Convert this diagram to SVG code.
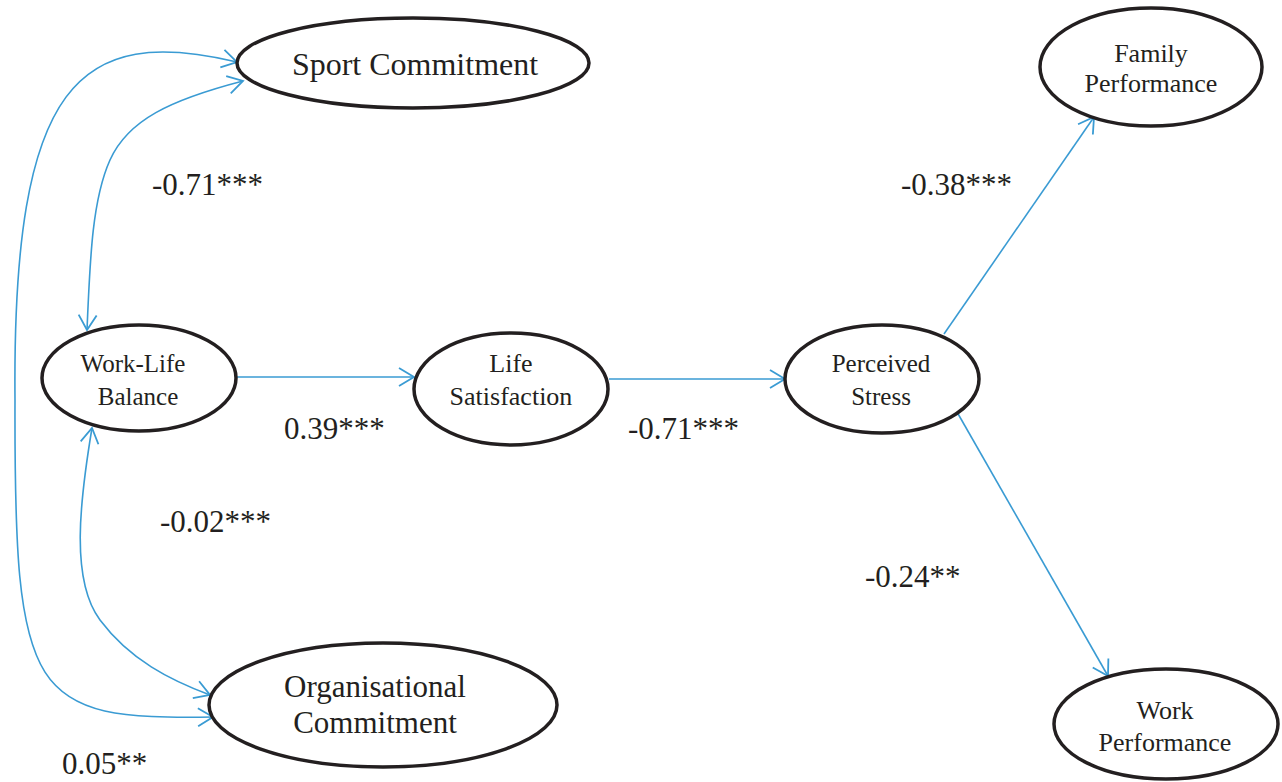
<svg xmlns="http://www.w3.org/2000/svg" width="1282" height="782" viewBox="0 0 1282 782">
<style>
.node{fill:#fff;stroke:#231f20;stroke-width:3.5}
.t{font-family:"Liberation Serif","Times New Roman",serif;fill:#231f20;text-anchor:middle}
.lbl{font-family:"Liberation Serif","Times New Roman",serif;fill:#231f20;font-size:31px}
.c{fill:none;stroke:#3a9bd3;stroke-width:1.6}
</style>
<defs>
<marker id="ah" markerUnits="userSpaceOnUse" markerWidth="20" markerHeight="22" refX="16" refY="10" orient="auto-start-reverse" viewBox="0 0 20 22">
<path d="M1,1 L16,10 L1,19" fill="none" stroke="#3a9bd3" stroke-width="1.8"/>
</marker>
</defs>
<g id="connectors">
<path class="c" d="M237,377 L414,377" marker-end="url(#ah)"/>
<path class="c" d="M609,379 L785,379" marker-end="url(#ah)"/>
<path class="c" d="M944,334 L1094,117" marker-end="url(#ah)"/>
<path class="c" d="M957,412 L1108,676" marker-end="url(#ah)"/>
<path class="c" d="M87,330 C90,260 92,200 110,160 C128,120 170,100 243,81" marker-start="url(#ah)" marker-end="url(#ah)"/>
<path class="c" d="M92,428 C80,500 70,580 100,620 C130,660 170,680 210,695" marker-start="url(#ah)" marker-end="url(#ah)"/>
<path class="c" d="M237,62 C80,25 12,80 15,400 C14,700 30,720 213,717" marker-start="url(#ah)" marker-end="url(#ah)"/>
</g>
<g id="sport">
<ellipse class="node" cx="413" cy="63" rx="176" ry="45"/>
<text class="t" x="415" y="75" font-size="32">Sport Commitment</text>
</g>
<g id="wlb">
<ellipse class="node" cx="139" cy="378" rx="97" ry="53"/>
<text class="t" x="133" y="372" font-size="25">Work-Life</text>
<text class="t" x="138" y="405" font-size="25">Balance</text>
</g>
<g id="ls">
<ellipse class="node" cx="511" cy="389" rx="97" ry="56"/>
<text class="t" x="511" y="372" font-size="26">Life</text>
<text class="t" x="511" y="405" font-size="26">Satisfaction</text>
</g>
<g id="ps">
<ellipse class="node" cx="882" cy="379" rx="97" ry="54"/>
<text class="t" x="881" y="372" font-size="25">Perceived</text>
<text class="t" x="881" y="405" font-size="25">Stress</text>
</g>
<g id="fp">
<ellipse class="node" cx="1151" cy="67" rx="111" ry="59"/>
<text class="t" x="1151" y="62" font-size="26">Family</text>
<text class="t" x="1151" y="92" font-size="26">Performance</text>
</g>
<g id="wp">
<ellipse class="node" cx="1166" cy="724" rx="112" ry="55"/>
<text class="t" x="1165" y="719" font-size="26">Work</text>
<text class="t" x="1165" y="751" font-size="26">Performance</text>
</g>
<g id="oc">
<ellipse class="node" cx="383" cy="705" rx="174" ry="62"/>
<text class="t" x="375" y="697" font-size="31">Organisational</text>
<text class="t" x="375" y="733" font-size="31">Commitment</text>
</g>
<g id="labels">
<text class="lbl" x="152" y="195">-0.71***</text>
<text class="lbl" x="284" y="439">0.39***</text>
<text class="lbl" x="628" y="439">-0.71***</text>
<text class="lbl" x="160" y="532">-0.02***</text>
<text class="lbl" x="901" y="195">-0.38***</text>
<text class="lbl" x="865" y="587">-0.24**</text>
<text class="lbl" x="62" y="774">0.05**</text>
</g>
</svg>
